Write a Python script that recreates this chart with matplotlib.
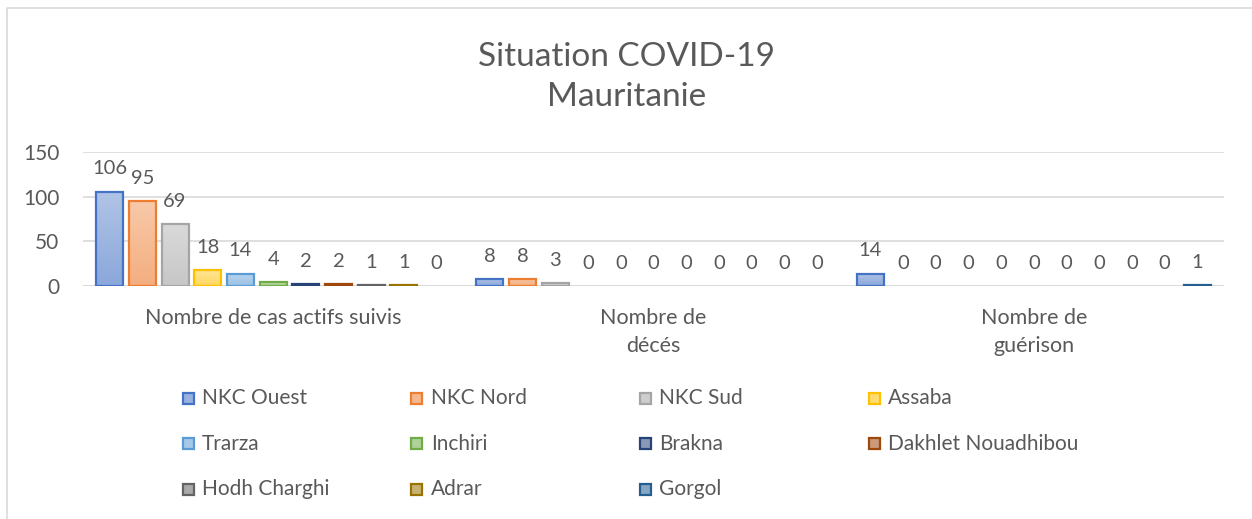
import numpy as np
import matplotlib
matplotlib.use("Agg")
import matplotlib.pyplot as plt
from matplotlib.colors import LinearSegmentedColormap, to_rgb
from matplotlib.patches import Rectangle
from matplotlib.lines import Line2D

# ---------------- data ----------------
categories = ["Nombre de cas actifs suivis", "Nombre de\ndécés", "Nombre de\nguérison"]
regions = ["NKC Ouest", "NKC Nord", "NKC Sud", "Assaba", "Trarza", "Inchiri",
           "Brakna", "Dakhlet Nouadhibou", "Hodh Charghi", "Adrar", "Gorgol"]
cas_actifs = [106, 95, 69, 18, 14, 4, 2, 2, 1, 1, 0]
deces = [8, 8, 3, 0, 0, 0, 0, 0, 0, 0, 0]
guerison = [14, 0, 0, 0, 0, 0, 0, 0, 0, 0, 1]
yticks = [0, 50, 100, 150]
title = "Situation COVID-19\nMauritanie"

edge_colors = ["#4472C4", "#ED7D31", "#A5A5A5", "#FFC000", "#5B9BD5", "#70AD47",
               "#264478", "#9E480E", "#636363", "#997300", "#255E91"]

values = np.array([cas_actifs, deces, guerison])  # shape (3, 11)

FONT = "Lato"
TXT = "#595959"
GRID = "#D9D9D9"

def mix(c, w):
    r = np.array(to_rgb(c))
    return tuple(r + (1 - r) * w)

W, H = 1252, 519
fig = plt.figure(figsize=(W / 100, H / 100), dpi=100)
ax = fig.add_axes([83 / W, 1 - 286 / H, 1141 / W, (286 - 152.3) / H])

n = len(regions)
step = 32.7 / 380.3
bw = 27.0 / 380.3
x = np.arange(len(categories))

grad = np.linspace(1, 0, 64).reshape(-1, 1)
for i, name in enumerate(regions):
    xs = x + (i - (n - 1) / 2) * step
    vals = values[:, i]
    ec = [edge_colors[i] if v > 0 else "none" for v in vals]
    bars = ax.bar(xs, vals, width=bw, facecolor="none", edgecolor=ec,
                  linewidth=1.6, zorder=3)
    cmap = LinearSegmentedColormap.from_list(
        "g%d" % i, [mix(edge_colors[i], 0.38), mix(edge_colors[i], 0.58)])
    for b, v in zip(bars, vals):
        if v > 0:
            ax.imshow(grad, extent=(b.get_x(), b.get_x() + b.get_width(), 0, v),
                      cmap=cmap, aspect="auto", zorder=2, interpolation="bilinear")
        ax.annotate(str(v), (b.get_x() + b.get_width() / 2, v),
                    xytext=(0, 12.5), textcoords="offset points",
                    ha="center", va="baseline", fontsize=14.5,
                    color=TXT, family=FONT)

ax.set_xlim(-0.5, 2.5)
ax.set_ylim(0, 150)
ax.set_yticks(yticks)
ax.set_xticks(x)
ax.set_xticklabels(categories, family=FONT, fontsize=15.5, color=TXT, linespacing=1.5)
ax.set_yticklabels([str(t) for t in yticks], family=FONT, fontsize=15, color=TXT)
ax.tick_params(axis="both", length=0)
ax.tick_params(axis="y", pad=17)
ax.tick_params(axis="x", pad=16)
for s in ax.spines.values():
    s.set_visible(False)
ax.grid(axis="y", color=GRID, linewidth=1.2, zorder=0)
ax.set_axisbelow(True)
ax.axhline(0, color=GRID, linewidth=1.2, zorder=1)

# title
fig.text(626.5 / W, 1 - 77 / H, title, ha="center", va="center",
         fontsize=24, color=TXT, family=FONT, linespacing=1.45)

# legend (row-major, 4 columns)
col_x = [188, 416.7, 645.4, 874.1]
row_y = [398, 443.5, 489]
ms = 11
for i, name in enumerate(regions):
    r, c = divmod(i, 4)
    cx, cy = col_x[c], row_y[r]
    fig.patches.append(Rectangle(((cx - ms / 2) / W, 1 - (cy + ms / 2) / H),
                                 ms / W, ms / H, transform=fig.transFigure,
                                 facecolor=mix(edge_colors[i], 0.45),
                                 edgecolor=edge_colors[i], linewidth=1.6))
    fig.text((cx + 14) / W, 1 - cy / H, name, ha="left", va="center",
             fontsize=15, color=TXT, family=FONT)

# chart border (top + left)
fig.add_artist(Line2D([7 / W, 7 / W, 1.0], [0.0, 1 - 8 / H, 1 - 8 / H],
                      transform=fig.transFigure, color=GRID, linewidth=1.2))

fig.savefig("out.png", dpi=100)
